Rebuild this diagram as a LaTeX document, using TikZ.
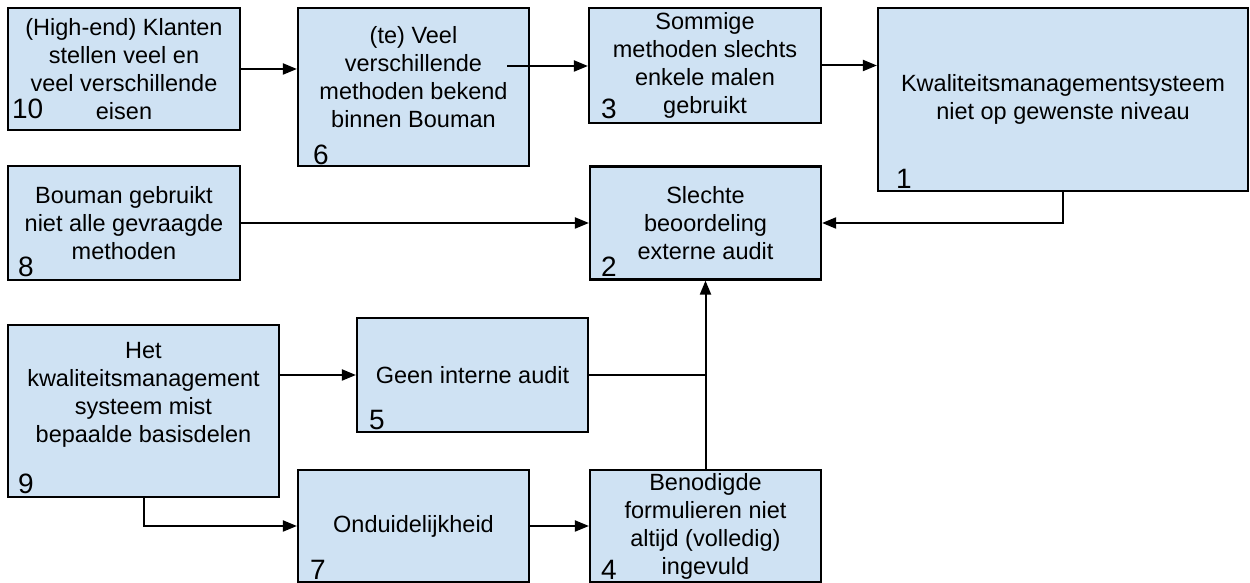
\documentclass[tikz,border=0pt]{standalone}
\usepackage{fontspec}
\setmainfont{Liberation Sans}
\usetikzlibrary{arrows.meta}
\definecolor{boxblue}{HTML}{CFE2F3}
\tikzset{%
    cause/.style={draw=black, line width=2.2pt, fill=boxblue, align=center, inner sep=2pt, font=\fontsize{23.5}{28}\selectfont},
    num/.style={anchor=base west, inner sep=0pt, font=\fontsize{28}{30}\selectfont},
    link/.style={black, line width=2pt, -{Triangle[length=14pt, width=11pt]}},
    joint/.style={black, line width=2pt}
}

\begin{document}
\begin{tikzpicture}[x=1pt, y=1pt]
    \useasboundingbox (0,0) rectangle (1250,583);
    % top row
    \node[cause, minimum width=232pt, minimum height=122pt] (b10) at (124,514) {(High-end) Klanten\\stellen veel en\\veel verschillende\\eisen};
    \node[cause, minimum width=231pt, minimum height=158pt, text depth=20pt] (b6) at (413.5,496) {(te) Veel\\verschillende\\methoden bekend\\binnen Bouman};
    \node[cause, minimum width=232pt, minimum height=115pt] (b3) at (705,517.5) {Sommige\\methoden slechts\\enkele malen\\gebruikt};
    \node[cause, minimum width=370pt, minimum height=183pt] (b1) at (1063,483.5) {Kwaliteitsmanagementsysteem\\niet op gewenste niveau};
    % middle row
    \node[cause, minimum width=232pt, minimum height=114pt] (b8) at (124,360) {Bouman gebruikt\\niet alle gevraagde\\methoden};
    \node[cause, minimum width=231pt, minimum height=113pt] (b2) at (705.5,360) {Slechte\\beoordeling\\externe audit};
    % bottom rows
    \node[cause, minimum width=271pt, minimum height=172pt, text depth=37pt] (b9) at (143.5,172) {Het\\kwaliteitsmanagement\\systeem mist\\bepaalde basisdelen};
    \node[cause, minimum width=231pt, minimum height=114pt] (b5) at (472.5,208) {Geen interne audit};
    \node[cause, minimum width=231pt, minimum height=112pt] (b7) at (413.5,57) {Onduidelijkheid};
    \node[cause, minimum width=231pt, minimum height=112pt] (b4) at (705.5,57) {Benodigde\\formulieren niet\\altijd (volledig)\\ingevuld};
    % numbers
    \node[num] (n10) at ([shift={(5,13)}]b10.south west) {10};
    \node[num] (n6) at ([shift={(16,3)}]b6.south west) {6};
    \node[num] (n3) at ([shift={(13,6)}]b3.south west) {3};
    \node[num] (n1) at ([shift={(19,4)}]b1.south west) {1};
    \node[num] (n8) at ([shift={(11,5)}]b8.south west) {8};
    \node[num] (n2) at ([shift={(12,4)}]b2.south west) {2};
    \node[num] (n9) at ([shift={(11,5)}]b9.south west) {9};
    \node[num] (n5) at ([shift={(13,4)}]b5.south west) {5};
    \node[num] (n7) at ([shift={(13,4)}]b7.south west) {7};
    \node[num] (n4) at ([shift={(12,4)}]b4.south west) {4};
    % connectors
    \coordinate (s6) at (507,517);
    \draw[link] (b10.east) -- (b10.east -| b6.west);
    \draw[link] (s6) -- (s6 -| b3.west);
    \draw[link] (b3.east) -- (b3.east -| b1.west);
    \draw[link] (b1.south) |- (b2.east);
    \draw[link] (b8.east) -- (b8.east -| b2.west);
    \draw[link] (b5.west -| b9.east) -- (b5.west);
    \draw[joint] (b5.east) -- (b5.east -| b2.south);
    \draw[link] (b4.north) -- (b2.south);
    \draw[link] (b9.south) |- (b7.west);
    \draw[link] (b7.east) -- (b4.west);
\end{tikzpicture}
\end{document}
